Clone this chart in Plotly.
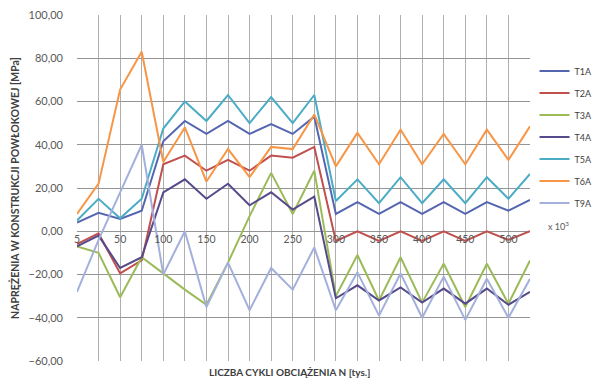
import plotly.graph_objects as go

categories = ["5", "25", "50", "75", "100", "125", "150", "175", "200", "225", "250",
              "275", "300", "325", "350", "375", "400", "425", "450", "475", "500", "525"]
tick_labels = ["5", "", "50", "", "100", "", "150", "", "200", "", "250",
               "", "300", "", "350", "", "400", "", "450", "", "500", ""]

T1A = [4, 8.5, 5.7, 9.5, 41.6, 51, 45, 51, 45, 49.5, 45, 53,
       8, 13.5, 8, 13.5, 8, 13.5, 8, 13.5, 9.5, 14.5]
T2A = [-6, -1, -19.5, -13.5, 31, 35, 28, 33, 28, 35, 34, 39,
       -4.5, 0, -4.5, 0, -4.5, 0, -4.5, 0, -4, 0]
T3A = [-7, -10, -30.5, -12, -19.5, -27, -34, -14.5, 7, 27, 8, 28,
       -30, -11, -32, -12, -33, -15, -35, -15, -33.5, -13.5]
T4A = [-7, -2, -17, -12, 18, 24, 15, 22, 12, 18, 10, 16,
       -31, -25, -32, -26, -33, -26.5, -33.5, -26.5, -34, -28]
T5A = [5, 15, 6, 15, 47.5, 60, 51, 63, 50, 62, 50, 63,
       14, 24, 13, 25, 13, 24, 13, 25, 15, 26.5]
T6A = [8, 22, 65.5, 83, 32, 48, 23, 38, 25, 39, 38, 54,
       30, 45.5, 31, 47, 31, 45, 31, 47, 33, 48.5]
T9A = [-28, -4, 18, 40, -20, 0, -35, -14.5, -36.5, -17, -27, -7.5,
       -36.5, -19, -39, -19.5, -40, -21, -41, -22, -40, -22]

series = [("T1A", T1A, "#5566B0"), ("T2A", T2A, "#C0504D"), ("T3A", T3A, "#9BBB59"),
          ("T4A", T4A, "#574A8A"), ("T5A", T5A, "#4BACC6"), ("T6A", T6A, "#F79646"),
          ("T9A", T9A, "#A3B0DC")]

fig = go.Figure()
for name, vals, col in series:
    fig.add_trace(go.Scatter(x=categories, y=vals, mode="lines", name=name,
                             legendgroup=name, yaxis="y2",
                             line=dict(color=col, width=2)))

FONT = "Lato"
Y_RANGE = [-60, 100]
fig.update_layout(
    width=601, height=377,
    margin=dict(l=69, r=79, t=7, b=24, autoexpand=False),
    paper_bgcolor="white", plot_bgcolor="white",
    separators=", ",
    font=dict(family=FONT, color="#595959", size=10),
    showlegend=True,
    legend=dict(x=1.01, y=0.88, xanchor="left", yanchor="top",
                font=dict(size=9, color="#404040"), tracegroupgap=3,
                itemwidth=30, bgcolor="rgba(0,0,0,0)"),
    xaxis=dict(type="category", range=[0, 21], tickvals=categories, ticktext=tick_labels,
               anchor="free", position=0.375, showline=False, ticks="", automargin=False,
               showgrid=True, gridcolor="#AFAFAF", gridwidth=1, zeroline=False,
               tickfont=dict(size=10.5, color="#595959"), ticklabelstandoff=0,
               title=dict(text="")),
    # minor horizontal grid
    yaxis=dict(range=Y_RANGE, tick0=0, dtick=4, showticklabels=False, ticks="",
               showline=False, automargin=False, zeroline=False,
               showgrid=True, gridcolor="#BEBEBE", gridwidth=1),
    # major grid, labels, title
    yaxis2=dict(range=Y_RANGE, overlaying="y", anchor="free", position=0, side="left",
                tick0=0, dtick=20, tickformat=".2f",
                showline=False, ticks="", automargin=False,
                showgrid=True, gridcolor="#959595", gridwidth=1, zeroline=False,
                ticklabeloverflow="allow",
                tickfont=dict(size=11, color="#595959"), ticklabelstandoff=14,
                title=dict(text="<b>NAPRĘŻENIA W KONSTRUKCJI POWŁOKOWEJ [MPa]</b>",
                           font=dict(size=10.5, color="#404040"), standoff=6)),
    annotations=[
        dict(text="<b>LICZBA CYKLI OBCIĄŻENIA N [tys.]</b>", x=0.47, y=-0.032,
             xref="paper", yref="paper", xanchor="center", yanchor="middle",
             showarrow=False, font=dict(size=10, color="#404040")),
        dict(text="x 10<sup>3</sup>", x=1.035, y=0.39, xref="paper", yref="paper",
             xanchor="left", yanchor="middle", showarrow=False,
             font=dict(size=9, color="#595959")),
    ],
)

fig.write_html("out.html")
